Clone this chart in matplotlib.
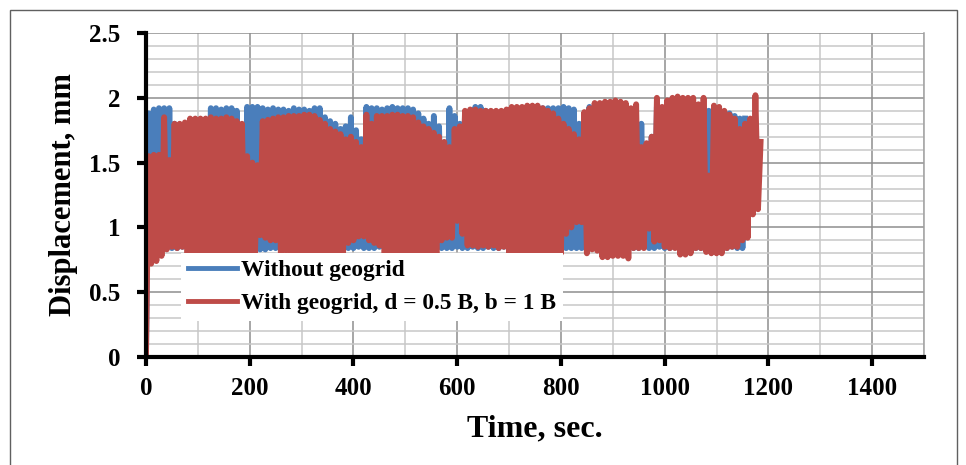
import matplotlib
matplotlib.use('Agg')
import matplotlib.pyplot as plt
from matplotlib.lines import Line2D
from matplotlib.patches import Rectangle
from matplotlib.ticker import MultipleLocator

# peak / trough readings every 10 s (trough at t, peak at t + 5)
times = list(range(0, 1190, 10))

red_top = [1.55, 1.56, 1.56, 1.85, 1.52, 1.80, 1.80, 1.81, 1.84, 1.84,
           1.84, 1.84, 1.85, 1.84, 1.84, 1.85, 1.84, 1.82, 1.80, 1.55,
           1.50, 1.48, 1.82, 1.83, 1.84, 1.85, 1.85, 1.86, 1.86, 1.86,
           1.87, 1.87, 1.86, 1.83, 1.80, 1.76, 1.74, 1.72, 1.68, 1.70,
           1.66, 1.62, 1.87, 1.80, 1.86, 1.86, 1.86, 1.87, 1.87, 1.86,
           1.86, 1.85, 1.81, 1.78, 1.76, 1.73, 1.70, 1.66, 1.62, 1.76,
           1.78, 1.90, 1.91, 1.91, 1.90, 1.90, 1.90, 1.90, 1.90, 1.91,
           1.93, 1.93, 1.93, 1.94, 1.94, 1.94, 1.92, 1.90, 1.88, 1.84,
           1.80, 1.76, 1.72, 1.68, 1.89, 1.92, 1.96, 1.96, 1.97, 1.97,
           1.98, 1.97, 1.96, 1.92, 1.95, 1.62, 1.65, 1.70, 2.00, 1.93,
           1.98, 2.00, 2.01, 2.00, 2.00, 2.00, 1.95, 2.00, 1.40, 1.94,
           1.93, 1.90, 1.87, 1.84, 1.76, 1.80, 1.84, 2.02, 1.66]
red_bot = [0.00, 0.72, 0.74, 0.78, 0.83, 0.85, 0.84, 0.85, 0.78, 0.78,
           0.78, 0.79, 0.78, 0.78, 0.79, 0.78, 0.78, 0.79, 0.78, 0.78,
           0.79, 0.78, 0.94, 0.92, 0.90, 0.90, 0.79, 0.82, 0.78, 0.78,
           0.79, 0.78, 0.78, 0.79, 0.78, 0.78, 0.79, 0.78, 0.80, 0.88,
           0.90, 0.93, 0.93, 0.90, 0.88, 0.86, 0.79, 0.78, 0.78, 0.79,
           0.78, 0.78, 0.79, 0.78, 0.78, 0.79, 0.80, 0.90, 0.92, 0.92,
           1.05, 0.95, 0.86, 0.86, 0.85, 0.86, 0.85, 0.86, 0.84, 0.85,
           0.79, 0.78, 0.78, 0.79, 0.78, 0.78, 0.79, 0.78, 0.78, 0.79,
           0.80, 0.95, 1.00, 1.04, 1.04, 0.80, 0.83, 0.82, 0.77, 0.77,
           0.78, 0.78, 0.78, 0.76, 0.84, 0.84, 0.84, 0.99, 0.89, 0.90,
           0.85, 0.84, 0.84, 0.79, 0.79, 0.80, 0.84, 0.84, 0.81, 0.80,
           0.80, 0.80, 0.84, 0.85, 0.85, 0.90, 0.92, 1.10, 1.14]

blue_top = [1.88, 1.91, 1.92, 1.92, 1.92, 1.80, 1.79, 1.80, 1.82, 1.82,
            1.83, 1.83, 1.92, 1.92, 1.91, 1.92, 1.92, 1.90, 1.78, 1.93,
            1.93, 1.93, 1.92, 1.91, 1.92, 1.91, 1.91, 1.90, 1.92, 1.91,
            1.91, 1.90, 1.92, 1.92, 1.85, 1.82, 1.80, 1.76, 1.78, 1.85,
            1.75, 1.68, 1.93, 1.92, 1.92, 1.91, 1.92, 1.93, 1.92, 1.92,
            1.92, 1.91, 1.88, 1.84, 1.80, 1.86, 1.78, 1.64, 1.92, 1.86,
            1.80, 1.88, 1.90, 1.93, 1.93, 1.90, 1.89, 1.89, 1.89, 1.90,
            1.91, 1.92, 1.92, 1.92, 1.92, 1.92, 1.92, 1.92, 1.92, 1.92,
            1.93, 1.92, 1.91, 1.80, 1.52, 1.93, 1.93, 1.93, 1.93, 1.93,
            1.93, 1.93, 1.93, 1.80, 1.70, 1.80, 1.60, 1.70, 1.93, 1.92,
            1.93, 1.93, 1.93, 1.93, 1.93, 1.93, 1.93, 1.93, 1.90, 1.93,
            1.90, 1.89, 1.88, 1.86, 1.84, 1.84]
blue_bot = [0.00, 0.85, 0.86, 0.86, 0.85, 0.84, 0.84, 0.85, 0.84, 0.84,
            0.85, 0.84, 0.84, 0.85, 0.84, 0.84, 0.85, 0.84, 0.84, 0.85,
            0.84, 0.84, 0.83, 0.83, 0.84, 0.84, 0.85, 0.84, 0.84, 0.85,
            0.84, 0.84, 0.85, 0.84, 0.84, 0.85, 0.84, 0.84, 0.85, 0.84,
            0.84, 0.85, 0.84, 0.84, 0.84, 0.85, 0.84, 0.84, 0.85, 0.84,
            0.84, 0.85, 0.84, 0.84, 0.85, 0.84, 0.84, 0.84, 0.84, 0.84,
            0.85, 0.84, 0.84, 0.85, 0.84, 0.84, 0.85, 0.84, 0.84, 0.85,
            0.84, 0.84, 0.85, 0.84, 0.84, 0.85, 0.84, 0.84, 0.85, 0.84,
            0.84, 0.84, 0.84, 0.84, 0.84, 0.84, 0.84, 0.85, 0.84, 0.84,
            0.85, 0.84, 0.84, 0.85, 0.84, 0.84, 0.85, 0.84, 0.84, 0.85,
            0.84, 0.84, 0.85, 0.84, 0.84, 0.85, 0.84, 0.84, 0.84, 0.84,
            0.85, 0.84, 0.84, 0.85, 0.84, 0.84]

labels = ['Without geogrid', 'With geogrid, d = 0.5 B, b = 1 B']
blue = '#4a7ebb'
red = '#be4b48'
serif = ['Liberation Serif', 'DejaVu Serif']


def zigzag(top, bot):
    xs, ys = [], []
    for t, hi, lo in zip(times, top, bot):
        xs += [t, t + 5]
        ys += [lo, hi]
    return xs, ys


fig = plt.figure(figsize=(9.66, 4.65), dpi=100)
ax = fig.add_axes([146 / 966, 108 / 465, 778 / 966, 324 / 465])

bx, by = zigzag(blue_top, blue_bot)
rx, ry = zigzag(red_top, red_bot)
ax.plot(bx, by, color=blue, lw=4.2, zorder=3, solid_joinstyle='round')
ax.plot(rx, ry, color=red, lw=4.2, zorder=4, solid_joinstyle='round')

ax.set_xlim(0, 1500)
ax.set_ylim(0, 2.5)
ax.xaxis.set_major_locator(MultipleLocator(200))
ax.xaxis.set_minor_locator(MultipleLocator(100))
ax.yaxis.set_major_locator(MultipleLocator(0.5))
ax.yaxis.set_minor_locator(MultipleLocator(0.1))
ax.yaxis.set_major_formatter(plt.FuncFormatter(lambda v, p: ('%g' % v)))
ax.grid(which='major', color='#8e8e8e', lw=1.1, zorder=0)
ax.grid(which='minor', color='#c8c8c8', lw=1.1, zorder=0)
ax.set_axisbelow(True)

for s in ['left', 'bottom']:
    ax.spines[s].set_linewidth(3)
    ax.spines[s].set_color('black')
    ax.spines[s].set_zorder(6)
ax.spines['top'].set_visible(False)
ax.spines['right'].set_color('#a0a0a0')
ax.spines['right'].set_linewidth(1.1)

ax.tick_params(which='major', direction='out', length=6.5, width=3, color='black')
ax.tick_params(which='minor', length=0)
ax.tick_params(axis='x', pad=8)
ax.tick_params(axis='y', pad=12)
for lab in ax.get_xticklabels() + ax.get_yticklabels():
    lab.set_family(serif)
    lab.set_fontweight('bold')
    lab.set_fontsize(18)

ax.set_xlabel('Time, sec.', family=serif, fontweight='bold', fontsize=23, labelpad=10)
ax.set_ylabel('Displacement, mm', family=serif, fontweight='bold', fontsize=22, labelpad=8)

handles = [Line2D([], [], color=blue, lw=3.5), Line2D([], [], color=red, lw=3.5)]
leg = ax.legend(handles, labels, loc='upper left', bbox_to_anchor=(0.045, 0.322),
                borderaxespad=0, frameon=True, fancybox=False, framealpha=1,
                edgecolor='none', facecolor='white', handlelength=2.1,
                handletextpad=0.15, labelspacing=0.5, borderpad=0.3,
                prop={'family': serif, 'weight': 'bold', 'size': 16.8})
leg.set_zorder(5)

fig.patches.append(Rectangle((10 / 966, -0.02), 947 / 966, 1 - 10 / 465 + 0.02,
                             transform=fig.transFigure, fill=False,
                             edgecolor='#606060', lw=1))

fig.savefig('out.png', dpi=100)
